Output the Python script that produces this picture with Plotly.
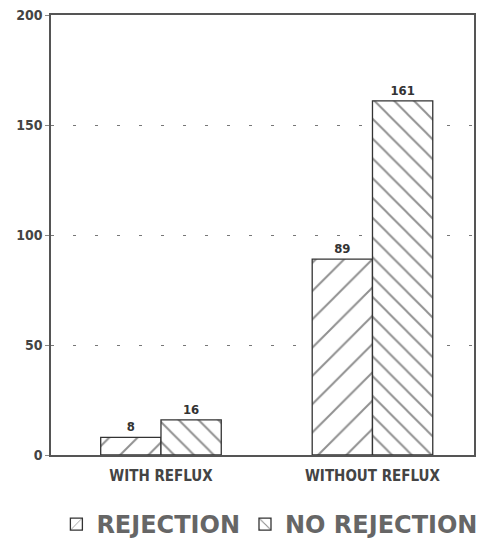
import plotly.graph_objects as go

categories = ["WITH REFLUX", "WITHOUT REFLUX"]
rejection = [8, 89]
no_rejection = [16, 161]
y_ticks = [0, 50, 100, 150, 200]

narrow = "DejaVu Sans Condensed"
grey = "#555555"

fig = go.Figure()
fig.add_trace(go.Bar(
    x=categories, y=rejection, name="REJECTION",
    marker=dict(color="white", line=dict(color="#333333", width=1.3),
                pattern=dict(shape="/", fgcolor="#222222", bgcolor="white", size=20, solidity=0.1)),
    text=[str(v) for v in rejection], textposition="outside",
    textfont=dict(family=narrow, size=13, color="#333333", weight="bold"), cliponaxis=False,
))
fig.add_trace(go.Bar(
    x=categories, y=no_rejection, name="NO REJECTION",
    marker=dict(color="white", line=dict(color="#333333", width=1.3),
                pattern=dict(shape="\\", fgcolor="#222222", bgcolor="white", size=14, solidity=0.14)),
    text=[str(v) for v in no_rejection], textposition="outside",
    textfont=dict(family=narrow, size=13, color="#333333", weight="bold"), cliponaxis=False,
))

fig.update_layout(
    width=496, height=538,
    margin=dict(l=43, r=30, t=7, b=91, autoexpand=False),
    paper_bgcolor="white", plot_bgcolor="white",
    barmode="group", bargap=0.43, bargroupgap=0,
    showlegend=True,
    legend=dict(orientation="h", x=0.528, xanchor="center", xref="container",
                y=0.04, yanchor="middle", yref="container",
                font=dict(family="DejaVu Sans", size=24, color="#666666", weight="bold"),
                itemwidth=30, bgcolor="rgba(0,0,0,0)", tracegroupgap=0),
    font=dict(family=narrow, color=grey),
)
fig.update_xaxes(
    showline=True, linecolor="#555555", linewidth=1.5, mirror=True,
    ticks="", tickfont=dict(family=narrow, size=15, color="#444444", weight="bold"),
    ticklabelstandoff=6,
    range=[-0.52, 1.48], showgrid=False,
)
fig.update_yaxes(
    range=[0, 200], tickvals=y_ticks, ticktext=[str(v) for v in y_ticks],
    showline=True, linecolor="#555555", linewidth=1.5, mirror=True,
    ticks="outside", ticklen=4, tickcolor="#888888",
    tickfont=dict(family=narrow, size=14, color="#444444", weight="bold"),
    ticklabeloverflow="allow",
    showgrid=True, gridcolor="#777777", griddash="3px,19px", gridwidth=1.2,
    zeroline=False,
)
fig.write_html("out.html")
